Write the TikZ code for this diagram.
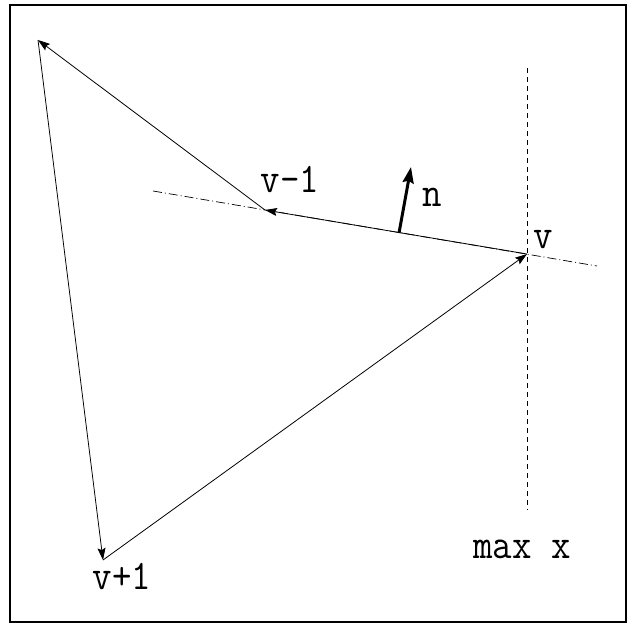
\documentclass[tikz,border=0pt]{standalone}
\usetikzlibrary{arrows.meta}
\begin{document}
\begin{tikzpicture}[x=1pt,y=-1pt,
  edge/.style={line width=0.8pt,-{Stealth[length=12pt,width=8pt,inset=2pt]}},
  lbl/.style={font=\fontsize{42}{42}\fontseries{l}\selectfont\ttfamily,inner sep=0pt,xscale=0.9},
  dashdot/.style={line width=0.7pt,dash pattern=on 9pt off 3pt on 1pt off 3pt},
  vdash/.style={line width=0.8pt,dash pattern=on 5pt off 4pt}]
\useasboundingbox (0,0) rectangle (636,627);
\draw[line width=1.6pt] (10,5) rectangle (626,622);
\coordinate (a) at (38,40);
\coordinate (vm1) at (265,210);
\coordinate (v) at (527,254);
\coordinate (vp1) at (103,560);
\coordinate (dl) at (153,191);
\coordinate (dr) at (597,266);
\coordinate (vt) at (527,68);
\coordinate (vb) at (527,510);
\coordinate (nb) at (399,233);
\coordinate (nt) at (411,167);
\draw[dashdot] (dl) -- (dr);
\draw[vdash] (vt) -- (vb);
\draw[edge] (v) -- (vm1);
\draw[edge] (vm1) -- (a);
\draw[edge] (a) -- (vp1);
\draw[edge] (vp1) -- (v);
\draw[line width=3pt,-{Stealth[length=16pt,width=11pt,inset=2pt]}] (nb) -- (nt);
\node[lbl] (lvm1) at (290,180) {v-1};
\node[lbl] (ln) at (432,197) {n};
\node[lbl] (lv) at (543,240) {v};
\node[lbl] (lvp1) at (122,577) {v+1};
\node[lbl] (lmax) at (522,549) {max x};
\end{tikzpicture}
\end{document}
